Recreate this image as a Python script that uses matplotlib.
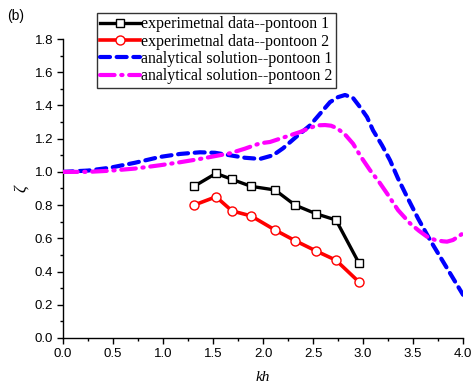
import matplotlib
matplotlib.use("Agg")
import matplotlib.pyplot as plt
from matplotlib.ticker import MultipleLocator

# Experimental data
kh_exp = [1.31, 1.53, 1.69, 1.88, 2.12, 2.32, 2.53, 2.73, 2.96]
zeta_exp1 = [0.913, 0.991, 0.955, 0.913, 0.891, 0.800, 0.748, 0.710, 0.450]
zeta_exp2 = [0.800, 0.850, 0.765, 0.735, 0.650, 0.586, 0.524, 0.468, 0.337]

# Analytical solutions
kh_an1 = [0.0, 0.25, 0.47, 0.72, 0.97, 1.17, 1.37, 1.52, 1.67, 1.82, 1.97, 2.10, 2.20,
          2.33, 2.47, 2.57, 2.67, 2.75, 2.82, 2.90, 2.97, 3.04, 3.10, 3.19, 3.27,
          3.35, 3.44, 3.55, 3.67, 3.76, 3.84, 3.92, 4.0]
zeta_an1 = [1.0, 1.008, 1.025, 1.055, 1.09, 1.108, 1.118, 1.115, 1.10, 1.085, 1.078, 1.10, 1.142,
            1.21, 1.28, 1.35, 1.42, 1.45, 1.463, 1.445, 1.39, 1.33, 1.25, 1.16, 1.07,
            0.96, 0.85, 0.72, 0.59, 0.50, 0.42, 0.34, 0.26]
kh_an2 = [0.0, 0.25, 0.47, 0.72, 0.97, 1.17, 1.37, 1.52, 1.67, 1.82, 1.97, 2.07, 2.22,
          2.37, 2.47, 2.54, 2.62, 2.68, 2.74, 2.82, 2.90, 2.98, 3.07, 3.16, 3.24,
          3.35, 3.47, 3.56, 3.64, 3.72, 3.80, 3.84, 3.90, 3.95, 4.0]
zeta_an2 = [1.0, 1.0, 1.007, 1.02, 1.04, 1.058, 1.078, 1.095, 1.112, 1.14, 1.172, 1.18, 1.21,
            1.24, 1.265, 1.28, 1.282, 1.278, 1.263, 1.225, 1.17, 1.09, 1.01, 0.94, 0.87,
            0.77, 0.69, 0.645, 0.61, 0.59, 0.582, 0.58, 0.59, 0.61, 0.63]

labels = ["experimetnal data--pontoon 1", "experimetnal data--pontoon 2",
          "analytical solution--pontoon 1", "analytical solution--pontoon 2"]

fig = plt.figure(figsize=(4.72, 3.92), dpi=100)
ax = fig.add_axes([0.1335, 0.1378, 0.8475, 0.7627])

l1, = ax.plot(kh_exp, zeta_exp1, color="black", lw=2.4, marker="s", ms=5.5,
              mfc="white", mec="black", mew=1.0, zorder=4)
l2, = ax.plot(kh_exp, zeta_exp2, color="red", lw=2.6, marker="o", ms=6.5,
              mfc="white", mec="red", mew=1.0, zorder=4)
l3, = ax.plot(kh_an1, zeta_an1, color="blue", lw=3, linestyle=(0, (2.4, 1.6)),
              dash_capstyle="round", zorder=3)
l4, = ax.plot(kh_an2, zeta_an2, color="magenta", lw=3, linestyle=(0, (3.5, 1.6, 0.3, 1.6)),
              dash_capstyle="round", zorder=3)

ax.set_xlim(0, 4.0)
ax.set_ylim(0, 1.8)
ax.xaxis.set_major_locator(MultipleLocator(0.5))
ax.xaxis.set_minor_locator(MultipleLocator(0.25))
ax.yaxis.set_major_locator(MultipleLocator(0.2))
ax.yaxis.set_minor_locator(MultipleLocator(0.1))
ax.xaxis.set_major_formatter(matplotlib.ticker.FormatStrFormatter("%.1f"))
ax.yaxis.set_major_formatter(matplotlib.ticker.FormatStrFormatter("%.1f"))
for s in ["top", "right"]:
    ax.spines[s].set_visible(False)
for s in ["left", "bottom"]:
    ax.spines[s].set_linewidth(1.0)
ax.tick_params(which="major", direction="out", length=4, width=1.0,
               labelsize=9.5, pad=3)
ax.tick_params(which="minor", direction="out", length=2.5, width=1.0)
for lab in ax.get_xticklabels() + ax.get_yticklabels():
    lab.set_fontfamily("Liberation Sans")

ax.set_xlabel("kh", fontfamily="Liberation Serif", fontstyle="italic", fontsize=11, labelpad=8)
ax.set_ylabel("ζ", fontfamily="Liberation Serif", fontstyle="italic", fontsize=12, labelpad=4)

leg = fig.legend([l1, l2, l3, l4], labels, loc="upper left",
                 bbox_to_anchor=(97 / 472, 1 - 13 / 392),
                 prop={"family": "Liberation Serif", "size": 11.4},
                 frameon=True, fancybox=False, edgecolor="black",
                 handlelength=2.5, handletextpad=0.05, borderpad=0.22,
                 labelspacing=0.08, borderaxespad=0)
leg.get_frame().set_linewidth(1.0)

fig.text(7 / 472, 1 - 16 / 392, "(b)", fontfamily="Liberation Sans", fontsize=10,
         va="center", ha="left")

fig.savefig("out.png", dpi=100)
